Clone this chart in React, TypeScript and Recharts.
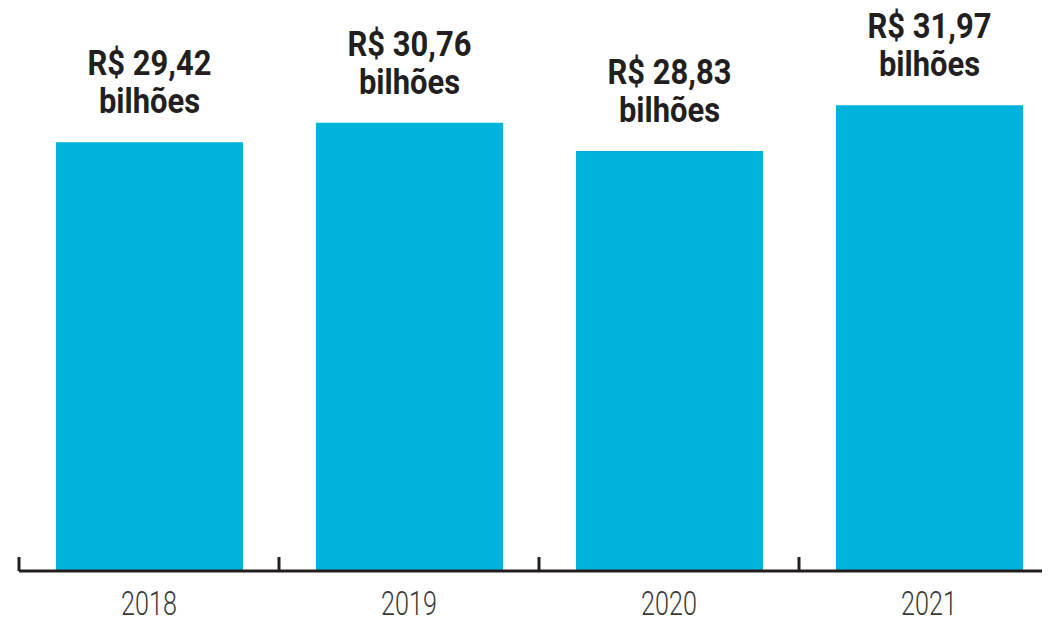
import { BarChart, Bar, XAxis, YAxis, LabelList } from "recharts";

const years = ["2018", "2019", "2020", "2021"];
const values = [29.42, 30.76, 28.83, 31.97];
const unit = "bilhões";

const BLUE = "#00b3dc";
const INK = "#231f20";
const FONT = "Roboto, 'Noto Sans', sans-serif";

const data = years.map((y, i) => ({ year: y, value: values[i] }));

const fmt = (v: number) => "R$ " + v.toFixed(2).replace(".", ",");

// narrow look: the source uses a condensed face, squeeze Roboto horizontally
function YearTick(props: any) {
  const { x, y, payload } = props;
  const left = x - (payload.offset || 0);
  return (
    <g>
      <line x1={left} x2={left} y1={y} y2={y - 14} stroke={INK} strokeWidth={3} />
      <text
        transform={`translate(${x},${y + 44}) scale(0.74,1)`}
        textAnchor="middle"
        fill="#3a3a3a"
        fontFamily={FONT}
        fontWeight={300}
        fontSize={34}
      >
        {payload.value}
      </text>
    </g>
  );
}

function ValueLabel(props: any) {
  const { x, y, width, value } = props;
  const cx = x + width / 2;
  return (
    <g transform={`translate(${cx},${y}) scale(0.86,1)`}>
      <text textAnchor="middle" fill={INK} fontFamily={FONT} fontWeight="bold" fontSize={36}>
        <tspan x={0} y={-67}>{fmt(value)}</tspan>
        <tspan x={0} y={-29}>{unit}</tspan>
      </text>
    </g>
  );
}

export default function App() {
  return (
    <BarChart
      width={1042}
      height={612}
      data={data}
      margin={{ top: 53, right: -9, left: 11, bottom: 0 }}
    >
      <XAxis
        dataKey="year"
        height={49}
        axisLine={{ stroke: INK, strokeWidth: 3 }}
        tickLine={false}
        tickSize={0}
        tickMargin={0}
        tick={<YearTick />}
        interval={0}
      />
      <YAxis hide domain={[0, 35]} />
      <Bar dataKey="value" fill={BLUE} barSize={187} isAnimationActive={false}>
        <LabelList dataKey="value" content={<ValueLabel />} />
      </Bar>
    </BarChart>
  );
}
